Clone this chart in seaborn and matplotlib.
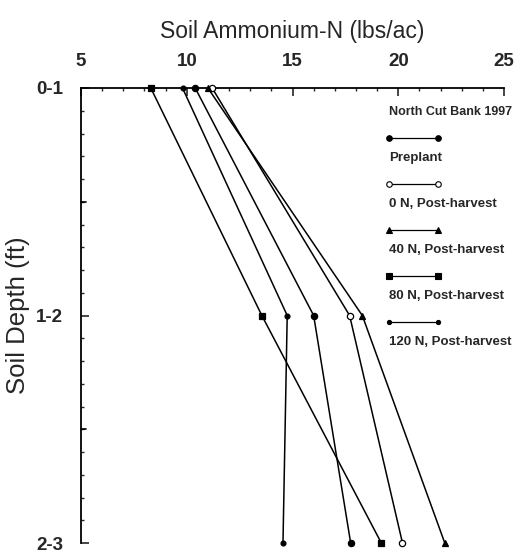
import numpy as np
import pandas as pd
import matplotlib
matplotlib.use("Agg")
import matplotlib.pyplot as plt
from matplotlib.lines import Line2D
from matplotlib.ticker import MultipleLocator, FixedLocator
import seaborn as sns

# ==============================
# data
# ==============================
depths = ["0-1", "1-2", "2-3"]
depth_pos = [0, 1, 2]

series = ["Preplant", "0 N, Post-harvest", "40 N, Post-harvest",
          "80 N, Post-harvest", "120 N, Post-harvest"]
preplant = [10.4, 16.0, 17.75]
n0_post = [11.2, 17.7, 20.2]
n40_post = [11.0, 18.3, 22.2]
n80_post = [8.3, 13.55, 19.2]
n120_post = [9.8, 14.75, 14.55]

markers = ["o", "o", "^", "s", "o"]
fills = ["black", "white", "black", "black", "black"]
msizes = [4.5, 4.5, 4.5, 4.5, 3.5]

df = pd.DataFrame({
    "series": np.repeat(series, 3),
    "depth": depth_pos * 5,
    "nh4": preplant + n0_post + n40_post + n80_post + n120_post,
})

# ==============================
# plot
# ==============================
sns.set_style("white")
plt.rcParams["font.family"] = ["Liberation Sans", "DejaVu Sans"]

fig = plt.figure(figsize=(5.29, 5.54), dpi=100)
ax = fig.add_axes([81 / 529, 1 - 543 / 554, 423 / 529, 455 / 554])

for name, m, fc, ms in zip(series, markers, fills, msizes):
    sub = df[df["series"] == name]
    sns.lineplot(data=sub, x="nh4", y="depth", sort=False, estimator=None,
                 color="black", lw=1.1, marker=m, markersize=ms,
                 markerfacecolor=fc, markeredgecolor="black", markeredgewidth=0.9,
                 clip_on=False, ax=ax, legend=False, zorder=3)

ax.set_xlim(5, 25)
ax.set_ylim(2, 0)

ax.xaxis.tick_top()
ax.xaxis.set_label_position("top")
ax.xaxis.set_major_locator(MultipleLocator(5))
ax.xaxis.set_minor_locator(MultipleLocator(1))
ax.yaxis.set_major_locator(FixedLocator(depth_pos))
ax.yaxis.set_minor_locator(MultipleLocator(0.1))
ax.set_yticklabels(depths)

for sp in ["right", "bottom"]:
    ax.spines[sp].set_visible(False)
for sp in ["left", "top"]:
    ax.spines[sp].set_linewidth(1.3)
    ax.spines[sp].set_color("black")

ax.tick_params(axis="x", which="both", top=True, bottom=False)
ax.tick_params(axis="y", which="both", left=True, right=False)
ax.tick_params(axis="both", which="major", direction="in", length=6, width=1.2,
               labelsize=13.5, pad=13)
ax.tick_params(axis="both", which="minor", direction="in", length=2.5, width=1)
for lab in ax.get_xticklabels() + ax.get_yticklabels():
    lab.set_fontweight("bold")

# half-foot marks on depth axis
for yy in [0.5, 1.5]:
    ax.plot([0, 0.011], [yy, yy], color="black", lw=1.2,
            transform=ax.get_yaxis_transform(), clip_on=False)

ax.set_xlabel("Soil Ammonium-N (lbs/ac)", fontsize=16.5, labelpad=11)
ax.set_ylabel("Soil Depth (ft)", fontsize=18.5, labelpad=4)

# ==============================
# legend (line on top, label below)
# ==============================
leg_font = dict(fontweight="bold", fontsize=9.5)
ax.text(0.728, 0.947, "North Cut Bank 1997", transform=ax.transAxes,
        va="center", ha="left", fontweight="bold", fontsize=9)
line_y = [0.890, 0.789, 0.688, 0.587, 0.486]
text_y = [0.846, 0.745, 0.644, 0.543, 0.442]
for name, m, fc, ms, ly, ty in zip(series, markers, fills, msizes, line_y, text_y):
    ax.add_line(Line2D([0.728, 0.844], [ly, ly], transform=ax.transAxes,
                       color="black", lw=0.9, marker=m, markersize=ms - 0.5,
                       markerfacecolor=fc, markeredgecolor="black",
                       markeredgewidth=0.8, clip_on=False))
    ax.text(0.728, ty, name, transform=ax.transAxes, va="center", ha="left",
            **leg_font)

fig.savefig("out.png", dpi=100)
